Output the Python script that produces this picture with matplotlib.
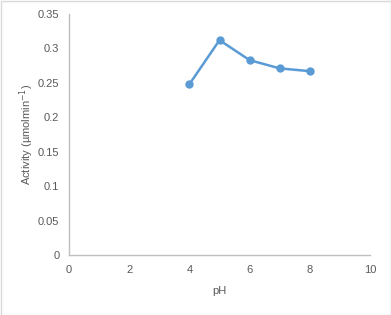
import matplotlib
matplotlib.use("Agg")
import matplotlib.pyplot as plt
from matplotlib.patches import Rectangle

plt.rcParams['font.family'] = ['Liberation Sans', 'DejaVu Sans']

ph = [4, 5, 6, 7, 8]
activity = [0.248, 0.312, 0.283, 0.271, 0.267]
xticks = [0, 2, 4, 6, 8, 10]
yticks = [0, 0.05, 0.1, 0.15, 0.2, 0.25, 0.3, 0.35]
ytick_labels = ['0', '0.05', '0.1', '0.15', '0.2', '0.25', '0.3', '0.35']

fig = plt.figure(figsize=(3.91, 3.15), dpi=100)
ax = fig.add_axes([69/391, 1-255/315, (370-69)/391, (255-14)/315])
ax.plot(ph, activity, color='#5B9BD5', lw=1.8, marker='o', ms=5, zorder=3, clip_on=False)
ax.set_xlim(0, 10)
ax.set_ylim(0, 0.35)
ax.set_xticks(xticks)
ax.set_yticks(yticks)
ax.set_yticklabels(ytick_labels)
for s in ['top', 'right']:
    ax.spines[s].set_visible(False)
for s in ['left', 'bottom']:
    ax.spines[s].set_color('#BFBFBF')
    ax.spines[s].set_linewidth(1)
ax.tick_params(length=0, labelsize=8, colors='#595959', pad=7)
ax.set_xlabel('pH', fontsize=8, color='#595959', labelpad=8)
ax.set_ylabel('Activity (µmolmin$^{-1}$)', fontsize=8, color='#595959', labelpad=1)
fig.patches.append(Rectangle((0.5/391, 0.5/315), 1-1/391, 1-1/315, transform=fig.transFigure,
                             fill=False, edgecolor='#D9D9D9', lw=1))
fig.savefig('out.png', dpi=100)
